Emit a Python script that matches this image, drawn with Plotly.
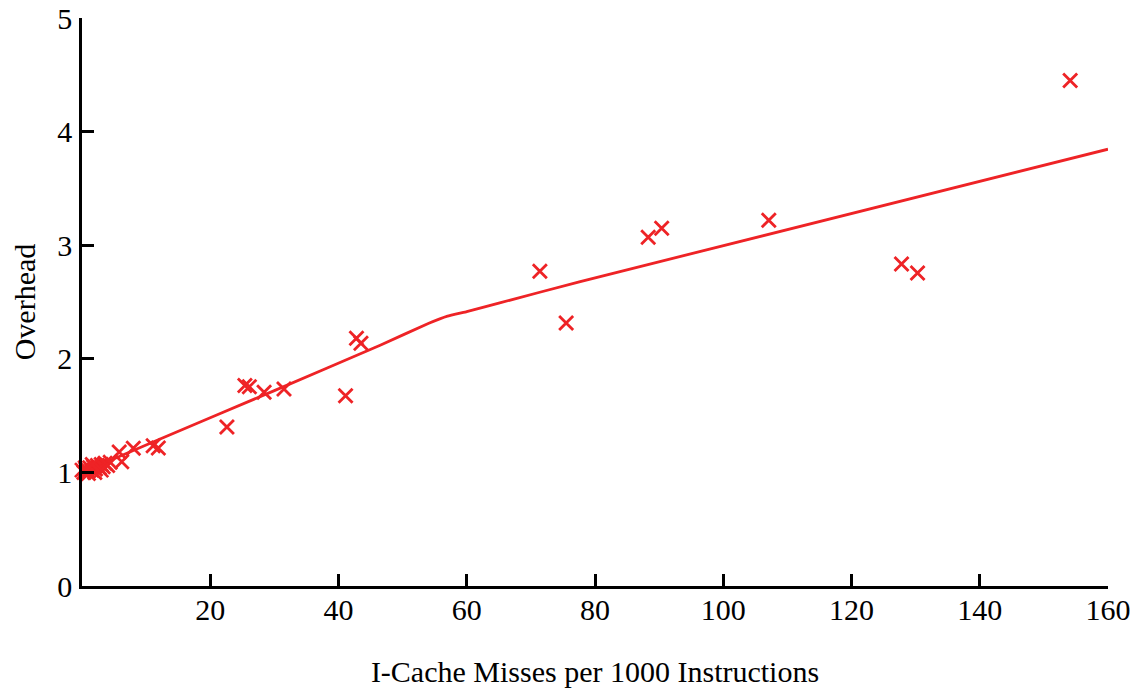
import plotly.graph_objects as go

# Measured I-cache miss rates and the resulting overhead per benchmark
misses = [154.1, 127.8, 130.3, 107.1, 90.4, 88.3, 71.4, 75.5,
          42.8, 43.5, 41.1, 31.5, 28.4, 25.4, 26.1, 22.6,
          11.1, 11.9, 8.0, 5.8, 6.2,
          0.0, 0.3, 0.6, 0.9, 1.2, 1.5, 1.8, 2.1, 2.4, 2.7, 3.0, 3.3,
          3.6, 4.0, 4.4, 1.0, 2.0, 3.0, 0.5, 1.6]
overhead = [4.45, 2.835, 2.755, 3.22, 3.15, 3.07, 2.77, 2.315,
            2.18, 2.137, 1.675, 1.735, 1.705, 1.765, 1.754, 1.40,
            1.235, 1.215, 1.212, 1.18, 1.094,
            1.02, 1.00, 1.03, 1.01, 1.04, 1.02, 1.05, 1.03, 1.06, 1.04, 1.07, 1.05,
            1.08, 1.06, 1.09, 0.99, 1.00, 1.02, 1.04, 1.07]

# Fitted trend (piecewise, softened at the knee)
fit_x = [0, 12, 30, 46.5, 54, 57, 60, 65, 77.7, 160]
fit_y = [1.0, 1.29, 1.72, 2.12, 2.31, 2.375, 2.415, 2.49, 2.68, 3.845]

x_ticks = [20, 40, 60, 80, 100, 120, 140, 160]
y_ticks = [0, 1, 2, 3, 4, 5]

red = "#ee2326"
serif = "Liberation Serif"

fig = go.Figure()
fig.add_trace(go.Scatter(x=fit_x, y=fit_y, mode="lines",
                         line=dict(color=red, width=2.8, shape="spline", smoothing=0.2),
                         hoverinfo="skip", showlegend=False))
fig.add_trace(go.Scatter(x=misses, y=overhead, mode="markers",
                         marker=dict(symbol="x-thin-open", size=14, color=red,
                                     line=dict(color=red, width=2.8)),
                         cliponaxis=False, showlegend=False))

axis_font = dict(family=serif, size=30, color="black")

fig.update_layout(
    width=1144, height=694,
    margin=dict(l=82, r=36, t=18, b=108),
    paper_bgcolor="white", plot_bgcolor="white",
    font=axis_font,
    xaxis=dict(range=[0, 160], tickvals=x_ticks, ticks="inside", ticklen=12,
               tickwidth=2.5, tickcolor="black", showline=True, linewidth=2.5,
               linecolor="black", showgrid=False, zeroline=False,
               tickfont=axis_font, automargin=False, ticklabelstandoff=-5,
               title=dict(text="I-Cache Misses per 1000 Instructions",
                          font=axis_font, standoff=37)),
    yaxis=dict(range=[0, 5], tickvals=y_ticks, ticks="inside", ticklen=12,
               tickwidth=2.5, tickcolor="black", showline=True, linewidth=2.5,
               linecolor="black", showgrid=False, zeroline=False,
               tickfont=axis_font, automargin=False, ticklabelstandoff=1,
               title=dict(text="Overhead", font=axis_font, standoff=13)),
)

fig.write_html("out.html")
